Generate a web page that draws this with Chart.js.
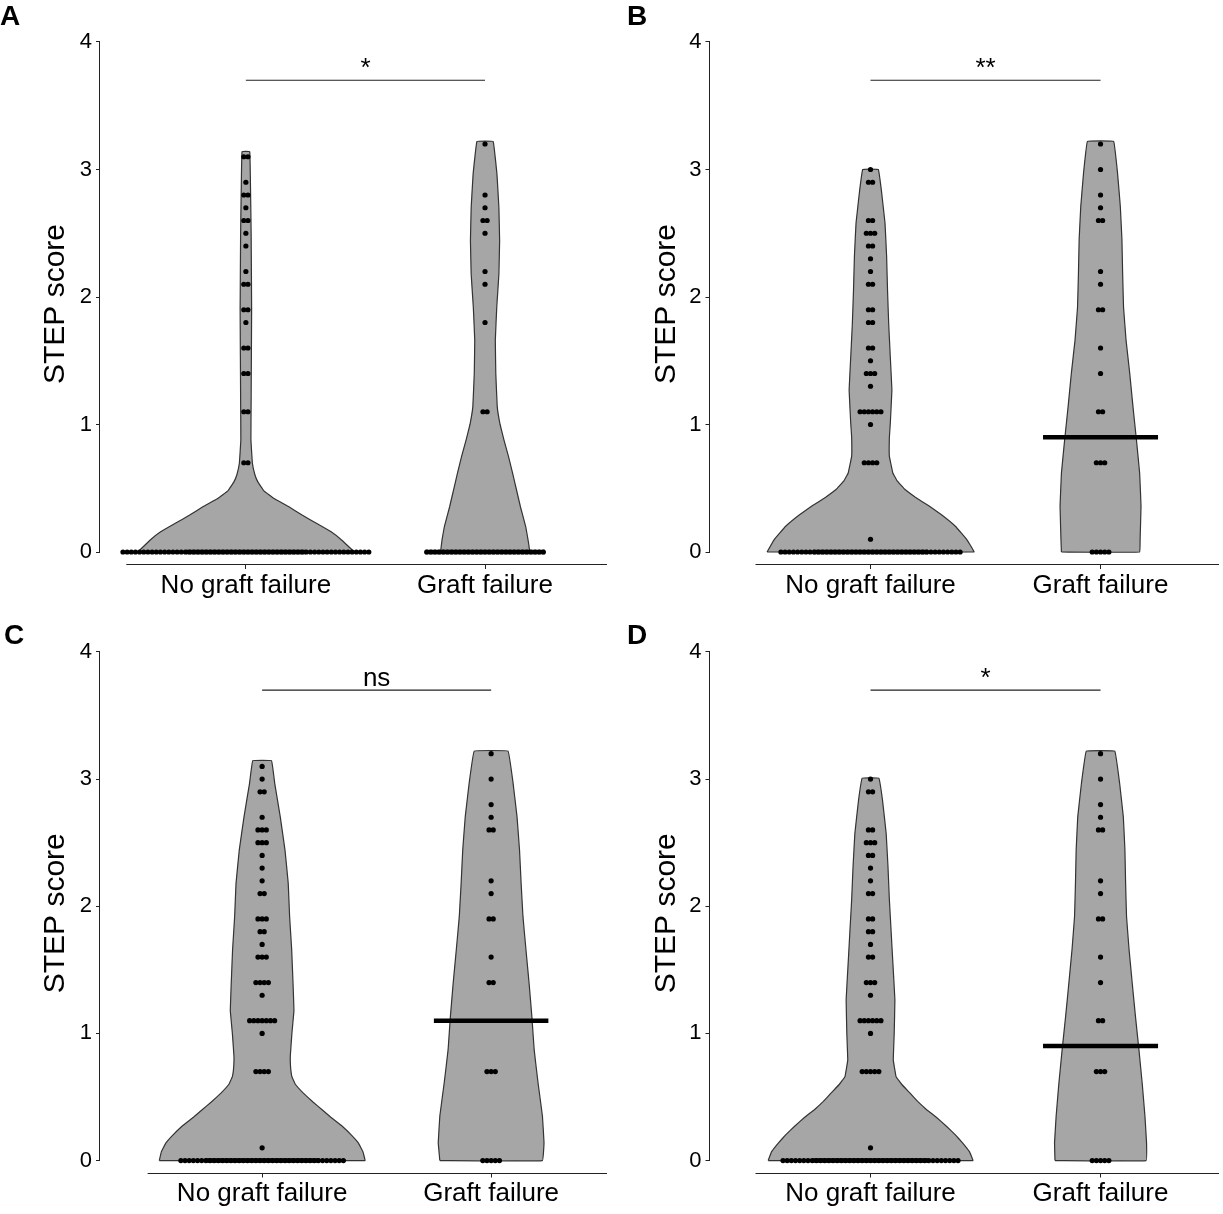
<!DOCTYPE html>
<html lang="en">
<head>
  <meta charset="UTF-8" />
  <title>STEP score by graft failure</title>
  <script src="https://cdn.jsdelivr.net/npm/chart.js"></script>
  <style>
    body { margin: 0; background: #fff; }
    .grid { position: relative; width: 1223px; height: 1214px; }
    .panel { position: absolute; }
  </style>
</head>
<body>
  <div class="grid">
    <div class="panel" style="left:0;top:0"><canvas id="chart-A" width="611" height="607"></canvas></div>
    <div class="panel" style="left:611px;top:0"><canvas id="chart-B" width="612" height="607"></canvas></div>
    <div class="panel" style="left:0;top:607px"><canvas id="chart-C" width="611" height="607"></canvas></div>
    <div class="panel" style="left:611px;top:607px"><canvas id="chart-D" width="612" height="607"></canvas></div>
  </div>

  <script>
    // categories and axis
    const categories = ['No graft failure', 'Graft failure'];
    const yTicks = [0, 1, 2, 3, 4];
    const yTitle = 'STEP score';
    const sigBarY = 3.7;

    // violin outlines: [STEP score, half width in category units]
    const violinA1 = [[0, 0.452], [0.094, 0.40], [0.16, 0.355], [0.225, 0.295], [0.29, 0.235], [0.355, 0.18], [0.42, 0.118], [0.48, 0.075], [0.55, 0.05], [0.61, 0.037], [0.7, 0.027], [0.88, 0.021], [1.2, 0.022], [1.9, 0.024], [2.5, 0.022], [2.9, 0.019], [3.14, 0.016]];
    const violinA2 = [[0, 0.186], [0.094, 0.18], [0.2, 0.17], [0.355, 0.148], [0.5, 0.13], [0.62, 0.115], [0.75, 0.098], [0.88, 0.079], [1.0, 0.063], [1.14, 0.051], [1.4, 0.045], [1.66, 0.043], [1.92, 0.049], [2.18, 0.058], [2.44, 0.061], [2.7, 0.058], [2.96, 0.05], [3.22, 0.034]];
    const violinB1 = [[0, 0.45], [0.094, 0.42], [0.2, 0.37], [0.29, 0.31], [0.36, 0.255], [0.43, 0.195], [0.49, 0.15], [0.56, 0.115], [0.62, 0.097], [0.75, 0.082], [0.9, 0.082], [1.01, 0.086], [1.27, 0.093], [1.53, 0.086], [1.79, 0.079], [2.05, 0.074], [2.32, 0.07], [2.58, 0.063], [2.84, 0.047], [3.0, 0.034]];
    const violinB2 = [[0, 0.17], [0.094, 0.172], [0.36, 0.176], [0.62, 0.17], [0.88, 0.156], [1.14, 0.141], [1.4, 0.127], [1.66, 0.111], [1.92, 0.1], [2.19, 0.096], [2.45, 0.093], [2.71, 0.086], [2.97, 0.074], [3.22, 0.057]];
    const violinC1 = [[0, 0.449], [0.07, 0.44], [0.139, 0.42], [0.2, 0.39], [0.27, 0.35], [0.34, 0.30], [0.4, 0.262], [0.46, 0.222], [0.53, 0.18], [0.6, 0.145], [0.66, 0.13], [0.74, 0.124], [0.82, 0.123], [1.0, 0.13], [1.18, 0.139], [1.39, 0.135], [1.66, 0.129], [1.92, 0.12], [2.18, 0.114], [2.44, 0.1], [2.705, 0.079], [2.967, 0.055], [3.145, 0.041]];
    const violinC2 = [[0, 0.224], [0.139, 0.231], [0.35, 0.224], [0.61, 0.205], [0.87, 0.188], [1.13, 0.178], [1.39, 0.166], [1.66, 0.152], [1.92, 0.139], [2.18, 0.131], [2.443, 0.124], [2.705, 0.113], [2.967, 0.096], [3.22, 0.074]];
    const violinD1 = [[0, 0.445], [0.07, 0.43], [0.139, 0.40], [0.2, 0.37], [0.27, 0.33], [0.335, 0.29], [0.4, 0.244], [0.465, 0.205], [0.53, 0.172], [0.6, 0.135], [0.66, 0.111], [0.79, 0.099], [1.0, 0.103], [1.265, 0.106], [1.527, 0.098], [1.79, 0.09], [2.05, 0.082], [2.31, 0.076], [2.574, 0.068], [2.836, 0.052], [3.007, 0.036]];
    const violinD2 = [[0, 0.198], [0.139, 0.2], [0.35, 0.193], [0.61, 0.181], [0.87, 0.167], [1.13, 0.152], [1.39, 0.138], [1.66, 0.124], [1.92, 0.113], [2.18, 0.109], [2.443, 0.106], [2.705, 0.099], [2.967, 0.083], [3.22, 0.062]];

    // dot stacks: [STEP score, number of patients]
    const dotsA1 = [[3.1, 2], [2.9, 1], [2.8, 2], [2.7, 1], [2.6, 2], [2.5, 1], [2.4, 1], [2.2, 1], [2.1, 2], [1.9, 2], [1.8, 1], [1.6, 2], [1.4, 2], [1.1, 2], [0.7, 2], [0, 60]];
    const dotsA2 = [[3.2, 1], [2.8, 1], [2.7, 1], [2.6, 2], [2.5, 1], [2.2, 1], [2.1, 1], [1.8, 1], [1.1, 2], [0, 29]];
    const dotsB1 = [[3.0, 1], [2.9, 2], [2.6, 2], [2.5, 3], [2.4, 2], [2.3, 1], [2.2, 1], [2.1, 2], [1.9, 2], [1.8, 2], [1.6, 2], [1.5, 1], [1.4, 3], [1.3, 1], [1.1, 6], [1.0, 1], [0.7, 4], [0.1, 1], [0, 44]];
    const dotsB2 = [[3.2, 1], [3.0, 1], [2.8, 1], [2.7, 1], [2.6, 2], [2.2, 1], [2.1, 1], [1.9, 2], [1.6, 1], [1.4, 1], [1.1, 2], [0.7, 3], [0, 5]];
    const dotsC1 = [[3.1, 1], [3.0, 1], [2.9, 2], [2.7, 1], [2.6, 3], [2.5, 3], [2.4, 1], [2.3, 1], [2.2, 1], [2.1, 2], [1.9, 3], [1.8, 2], [1.7, 1], [1.6, 3], [1.4, 4], [1.3, 1], [1.1, 7], [1.0, 1], [0.7, 4], [0.1, 1], [0, 40]];
    const dotsC2 = [[3.2, 1], [3.0, 1], [2.8, 1], [2.7, 1], [2.6, 2], [2.2, 1], [2.1, 1], [1.9, 2], [1.6, 1], [1.4, 2], [0.7, 3], [0, 5]];
    const dotsD1 = [[3.0, 1], [2.9, 2], [2.6, 2], [2.5, 3], [2.4, 2], [2.3, 1], [2.2, 1], [2.1, 2], [1.9, 2], [1.8, 2], [1.7, 1], [1.6, 2], [1.4, 3], [1.3, 1], [1.1, 6], [1.0, 1], [0.7, 5], [0.1, 1], [0, 43]];
    const dotsD2 = [[3.2, 1], [3.0, 1], [2.8, 1], [2.7, 1], [2.6, 2], [2.2, 1], [2.1, 1], [1.9, 2], [1.6, 1], [1.4, 1], [1.1, 2], [0.7, 3], [0, 5]];

    // medians per group
    const medianA = [0, 0];
    const medianB = [0, 0.9];
    const medianC = [0, 1.1];
    const medianD = [0, 0.9];

    const sigLabels = ['*', '**', 'ns', '*'];

    const FONT = 'Arial, "Liberation Sans", sans-serif';
    const DOT_PX = 4.2;
    const Y_MIN = -0.094, Y_MAX = 4.094;

    const panels = [
      { letter: 'A', sig: sigLabels[0], violins: [violinA1, violinA2], dots: [dotsA1, dotsA2], medians: medianA,
        width: 611, axisW: 100, xMin: 0.39, xMax: 2.51, padTop: 30, xAxisH: 43, letterX: 0, letterY: 25 },
      { letter: 'B', sig: sigLabels[1], violins: [violinB1, violinB2], dots: [dotsB1, dotsB2], medians: medianB,
        width: 612, axisW: 98.5, xMin: 0.30, xMax: 2.515, padTop: 30, xAxisH: 43, letterX: 16, letterY: 25 },
      { letter: 'C', sig: sigLabels[2], violins: [violinC1, violinC2], dots: [dotsC1, dotsC2], medians: medianC,
        width: 611, axisW: 100, xMin: 0.292, xMax: 2.506, padTop: 33, xAxisH: 41.5, letterX: 4, letterY: 36.5 },
      { letter: 'D', sig: sigLabels[3], violins: [violinD1, violinD2], dots: [dotsD1, dotsD2], medians: medianD,
        width: 612, axisW: 98.5, xMin: 0.30, xMax: 2.515, padTop: 33, xAxisH: 41.5, letterX: 16, letterY: 36.5 }
    ];

    Chart.defaults.font.family = FONT;
    Chart.defaults.color = '#000';

    function violinPolygon(profile, center) {
      const left = profile.map(([y, w]) => ({ x: center - w, y }));
      const right = profile.slice().reverse().map(([y, w]) => ({ x: center + w, y }));
      return left.concat(right, [left[0]]);
    }

    function dotPoints(stacks, center, step) {
      const pts = [];
      stacks.forEach(([y, n]) => {
        for (let i = 0; i < n; i++) {
          pts.push({ x: center + (i - (n - 1) / 2) * step, y });
        }
      });
      return pts;
    }

    const decorPlugin = {
      id: 'decor',
      afterDraw(chart, args, opts) {
        const { ctx, chartArea, scales: { x, y } } = chart;
        ctx.save();
        ctx.strokeStyle = '#222';
        ctx.lineWidth = 1;

        // y axis line only across 0..4
        const ax = Math.round(chartArea.left) - 0.5;
        ctx.beginPath();
        ctx.moveTo(ax, y.getPixelForValue(4));
        ctx.lineTo(ax, y.getPixelForValue(0));
        ctx.stroke();

        // x axis line
        const by = Math.round(chartArea.bottom) + 0.5;
        ctx.beginPath();
        ctx.moveTo(x.getPixelForValue(0.5), by);
        ctx.lineTo(chartArea.right, by);
        ctx.stroke();

        // significance label
        ctx.fillStyle = '#000';
        ctx.font = '26px ' + FONT;
        ctx.textAlign = 'center';
        ctx.textBaseline = 'alphabetic';
        ctx.fillText(opts.sig, x.getPixelForValue(1.5), y.getPixelForValue(sigBarY) - 4);

        // panel letter
        ctx.font = 'bold 28px ' + FONT;
        ctx.textAlign = 'left';
        ctx.fillText(opts.letter, opts.letterX, opts.letterY);

        // y title
        ctx.translate(56, (chartArea.top + chartArea.bottom) / 2 + 7);
        ctx.rotate(-Math.PI / 2);
        ctx.font = '30px ' + FONT;
        ctx.textAlign = 'center';
        ctx.textBaseline = 'middle';
        ctx.fillText(yTitle, 0, 0);
        ctx.restore();
      }
    };

    function renderPanel(p) {
      const pxPerUnit = (p.width - p.axisW) / (p.xMax - p.xMin);
      const step = DOT_PX / pxPerUnit;
      const datasets = [];

      p.violins.forEach((profile, i) => {
        datasets.push({
          type: 'line',
          data: violinPolygon(profile, i + 1),
          fill: 'shape',
          backgroundColor: '#a6a6a6',
          borderColor: '#333',
          borderWidth: 1.2,
          pointRadius: 0,
          // small non-zero tension: keeps Chart.js off its fast path, which assumes sorted x
          tension: 0.05,
          order: 3
        });
      });

      datasets.push({
        type: 'scatter',
        data: p.dots.flatMap((stacks, i) => dotPoints(stacks, i + 1, step)),
        pointRadius: 2.6,
        pointBackgroundColor: '#000',
        pointBorderWidth: 0,
        clip: false,
        order: 1
      });

      p.medians.forEach((m, i) => {
        datasets.push({
          type: 'line',
          data: [{ x: i + 1 - 0.25, y: m }, { x: i + 1 + 0.25, y: m }],
          borderColor: '#000',
          borderWidth: 4.5,
          borderCapStyle: 'butt',
          pointRadius: 0,
          order: 0
        });
      });

      datasets.push({
        type: 'line',
        data: [{ x: 1, y: sigBarY }, { x: 2, y: sigBarY }],
        borderColor: '#222',
        borderWidth: 1.2,
        pointRadius: 0,
        order: 2
      });

      new Chart(document.getElementById('chart-' + p.letter), {
        type: 'line',
        data: { datasets },
        plugins: [decorPlugin],
        options: {
          responsive: false,
          animation: false,
          events: [],
          layout: { padding: { top: p.padTop, left: 0, right: 0, bottom: 0 } },
          plugins: {
            legend: { display: false },
            tooltip: { enabled: false },
            decor: { sig: p.sig, letter: p.letter, letterX: p.letterX, letterY: p.letterY }
          },
          scales: {
            x: {
              type: 'linear',
              min: p.xMin,
              max: p.xMax,
              afterBuildTicks: (scale) => { scale.ticks = [1, 2].map(v => ({ value: v })); },
              afterFit: (scale) => { scale.height = p.xAxisH; },
              ticks: {
                font: { size: 26 },
                color: '#000',
                padding: 1,
                maxRotation: 0,
                callback: (v) => categories[v - 1]
              },
              grid: { drawOnChartArea: false, drawTicks: true, tickLength: 5, tickColor: '#222', tickWidth: 1 },
              border: { display: false }
            },
            y: {
              type: 'linear',
              min: Y_MIN,
              max: Y_MAX,
              afterBuildTicks: (scale) => { scale.ticks = yTicks.map(v => ({ value: v })); },
              afterFit: (scale) => { scale.width = p.axisW; },
              ticks: { font: { size: 22 }, color: '#000', padding: 4 },
              grid: { drawOnChartArea: false, drawTicks: true, tickLength: 4, tickColor: '#222', tickWidth: 1 },
              border: { display: false },
              title: { display: false }
            }
          }
        }
      });
    }

    panels.forEach(renderPanel);
  </script>
</body>
</html>
